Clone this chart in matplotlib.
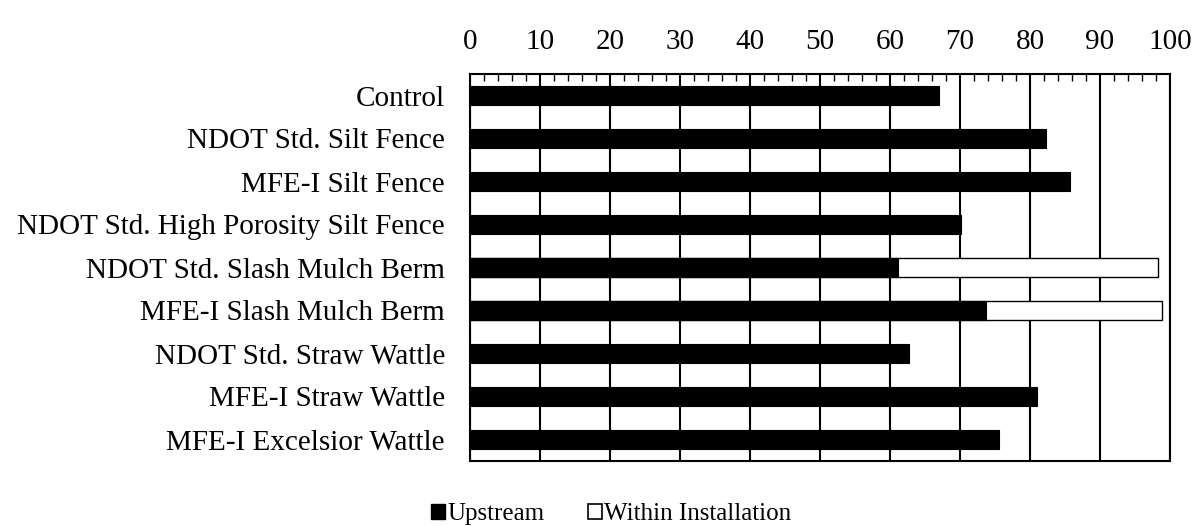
import numpy as np
import matplotlib
matplotlib.use("Agg")
import matplotlib.pyplot as plt
from matplotlib.ticker import MultipleLocator
from matplotlib.patches import Patch

plt.rcParams['font.family'] = ['Liberation Serif', 'DejaVu Serif']

# categories, top to bottom as in the chart
categories = [
    "Control",
    "NDOT Std. Silt Fence",
    "MFE-I Silt Fence",
    "NDOT Std. High Porosity Silt Fence",
    "NDOT Std. Slash Mulch Berm",
    "MFE-I Slash Mulch Berm",
    "NDOT Std. Straw Wattle",
    "MFE-I Straw Wattle",
    "MFE-I Excelsior Wattle",
]
upstream = [67.0, 82.3, 85.7, 70.1, 61.1, 73.7, 62.7, 81.0, 75.5]
# within installation (None where not measured)
within = [None, None, None, None, 98.3, 98.9, None, None, None]

FS = 21

fig = plt.figure(figsize=(11.99, 5.26), dpi=100)
ax = fig.add_axes([470 / 1199, 1 - 461 / 526, 700 / 1199, 387 / 526])

y = np.arange(len(categories))
bar_h = 0.44

for yi, w in zip(y, within):
    if w is not None:
        ax.barh(yi, w, height=bar_h, color='white', edgecolor='black',
                linewidth=1.0, zorder=2)
ax.barh(y, upstream, height=bar_h, color='black', edgecolor='black',
        linewidth=0.8, zorder=3)

ax.set_xlim(0, 100)
ax.set_ylim(len(categories) - 0.5, -0.5)
ax.set_yticks(y)
ax.set_yticklabels(categories, fontsize=FS)
ax.tick_params(axis='y', length=0, pad=18)

ax.xaxis.set_major_locator(MultipleLocator(10))
ax.xaxis.set_minor_locator(MultipleLocator(2))
ax.xaxis.tick_top()
ax.tick_params(axis='x', which='major', direction='in', length=0,
               labelsize=FS, pad=14)
ax.tick_params(axis='x', which='minor', direction='in', length=5,
               width=1.0, color='black', top=True, bottom=False)
ax.grid(axis='x', which='major', color='black', linewidth=1.5, zorder=1)
ax.set_axisbelow(True)

for sp in ax.spines.values():
    sp.set_linewidth(1.5)
    sp.set_color('black')

handles = [Patch(facecolor='black', edgecolor='black', label='Upstream'),
           Patch(facecolor='white', edgecolor='black', linewidth=1.2,
                 label='Within Installation')]
fig.legend(handles=handles, loc='center', bbox_to_anchor=(611 / 1199, 1 - 514 / 526),
           ncol=2, frameon=False, fontsize=18, handlelength=0.55,
           handleheight=0.55, handletextpad=0.1, columnspacing=1.75,
           borderpad=0)

fig.savefig("out.png", dpi=100)
